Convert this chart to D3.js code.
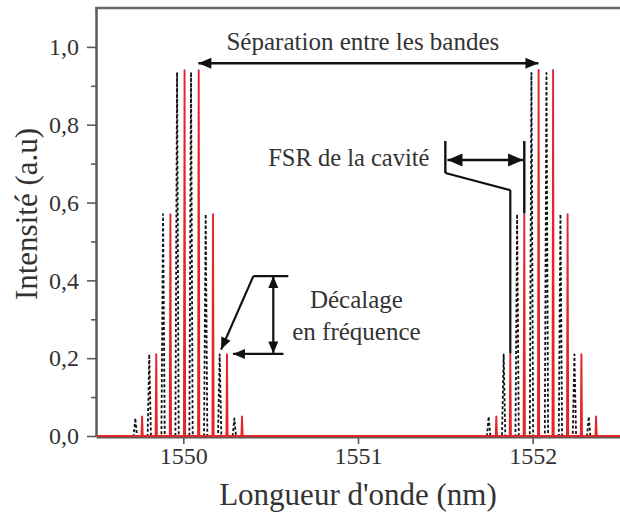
<!DOCTYPE html>
<html><head><meta charset="utf-8">
<script src="https://cdn.jsdelivr.net/npm/d3@7"></script>
<style>html,body{margin:0;padding:0;background:#fff}svg{display:block}</style>
</head><body>
<svg id="c" width="620" height="513"></svg>
<script>
// ---- data ----
const xDomain = [1549.5, 1552.5];
const yDomain = [0, 1.1];
const xTicks = [1550, 1551, 1552];
const yTicks = [0, 0.2, 0.4, 0.6, 0.8, 1.0];
const yMinorTicks = [0.1, 0.3, 0.5, 0.7, 0.9];
// black dashed comb (before shift)
const blackWavelengths = [1549.725, 1549.805, 1549.884, 1549.964, 1550.044, 1550.128, 1550.208, 1550.292,
                          1551.748, 1551.834, 1551.911, 1551.993, 1552.079, 1552.159, 1552.239, 1552.321];
const blackIntensities = [0.046, 0.21, 0.57, 0.935, 0.935, 0.57, 0.21, 0.045,
                          0.05, 0.21, 0.57, 0.933, 0.933, 0.57, 0.21, 0.05];
// red solid comb (frequency shifted)
const redWavelengths = [1549.764, 1549.845, 1549.926, 1550.007, 1550.088, 1550.170, 1550.250, 1550.336,
                        1551.792, 1551.872, 1551.952, 1552.034, 1552.117, 1552.200, 1552.279, 1552.363];
const redIntensities = [0.05, 0.21, 0.57, 0.94, 0.94, 0.57, 0.21, 0.05,
                        0.05, 0.21, 0.57, 0.941, 0.941, 0.57, 0.21, 0.05];
const xTitle = "Longueur d'onde (nm)";
const yTitle = "Intensité (a.u)";

// ---- chart ----
const svg = d3.select('#c');
const W = 620, H = 513;
const mLeft = 96, mRight = 620, mTop = 8, mBottom = 436;
const x = d3.scaleLinear().domain(xDomain).range([mLeft, mRight]);
const y = d3.scaleLinear().domain(yDomain).range([mBottom, mTop]);
const font = "'Liberation Serif', 'Times New Roman', serif";
const axisCol = '#5a5a5a', textCol = '#333';

svg.append('rect').attr('width', W).attr('height', H).attr('fill', '#fff');

svg.append('defs').append('clipPath').attr('id', 'clip')
  .append('rect').attr('x', mLeft + 1).attr('y', mTop).attr('width', mRight - mLeft).attr('height', mBottom - mTop + 2);

// axes
const fmt = d => d3.format('.1f')(d).replace('.', ',');
const yAx = svg.append('g').attr('transform', `translate(${mLeft},0)`)
  .call(d3.axisLeft(y).tickValues(yTicks).tickFormat(fmt).tickSize(9).tickSizeOuter(0).tickPadding(8));
const yMin = svg.append('g').attr('transform', `translate(${mLeft},0)`)
  .call(d3.axisLeft(y).tickValues(yMinorTicks).tickFormat('').tickSize(5).tickSizeOuter(0));
const xAx = svg.append('g').attr('transform', `translate(0,${mBottom + 1})`)
  .call(d3.axisBottom(x).tickValues(xTicks).tickFormat(d3.format('d')).tickSize(7).tickSizeOuter(0).tickPadding(3));
[yAx, yMin, xAx].forEach(a => {
  a.select('.domain').attr('stroke', axisCol).attr('stroke-width', 2);
  a.selectAll('.tick line').attr('stroke', axisCol).attr('stroke-width', 1.6);
  a.selectAll('text').attr('font-family', font).attr('font-size', 24).attr('fill', textCol);
});
// top frame line
svg.append('line').attr('x1', mLeft - 1).attr('x2', mRight).attr('y1', mTop).attr('y2', mTop)
  .attr('stroke', '#6a6a6a').attr('stroke-width', 2.6);

// spectra
function combPoints(ws, hs, halfW) {
  const pts = [[xDomain[0], 0]];
  ws.forEach((w, i) => {
    pts.push([w - halfW, 0], [w, hs[i]], [w + halfW, 0]);
  });
  pts.push([xDomain[1], 0]);
  return pts;
}
const line = d3.line().x(d => x(d[0])).y(d => y(d[1]));

const g = svg.append('g').attr('clip-path', 'url(#clip)');
g.append('path').datum(combPoints(blackWavelengths, blackIntensities, 0.0095))
  .attr('d', line).attr('fill', 'none').attr('stroke', '#111').attr('stroke-width', 1.8)
  .attr('stroke-dasharray', '3,2.2').attr('stroke-linejoin', 'round');
g.append('path').datum(combPoints(redWavelengths, redIntensities, 0.0035))
  .attr('d', line).attr('fill', 'none').attr('stroke', '#e3262b').attr('stroke-width', 1.9)
  .attr('stroke-linejoin', 'round');

// titles
svg.append('text').attr('x', (mLeft + mRight) / 2).attr('y', 505).attr('text-anchor', 'middle')
  .attr('font-family', font).attr('font-size', 31).attr('fill', textCol).text(xTitle);
svg.append('text').attr('transform', `translate(37,214) rotate(-90)`).attr('text-anchor', 'middle')
  .attr('font-family', font).attr('font-size', 31).attr('fill', textCol).text(yTitle);

// ---- annotations ----
const ann = svg.append('g');
const ink = '#111';
function seg(x1, y1, x2, y2, w = 2.2) {
  ann.append('line').attr('x1', x(x1)).attr('y1', y(y1)).attr('x2', x(x2)).attr('y2', y(y2))
    .attr('stroke', ink).attr('stroke-width', w);
}
function head(xt, yt, xf, yf, len, hw) {
  const tx = x(xt), ty = y(yt), fx = x(xf), fy = y(yf);
  const a = Math.atan2(ty - fy, tx - fx);
  const bx = tx - len * Math.cos(a), by = ty - len * Math.sin(a);
  const px = -Math.sin(a) * hw, py = Math.cos(a) * hw;
  ann.append('path').attr('d', `M${tx},${ty}L${bx + px},${by + py}L${bx - px},${by - py}Z`).attr('fill', ink);
}
function arrow(x1, y1, x2, y2, both, len, hw, w) {
  seg(x1, y1, x2, y2, w);
  head(x2, y2, x1, y1, len, hw);
  if (both) head(x1, y1, x2, y2, len, hw);
}
function label(txt, xv, yv, anchor, size) {
  ann.append('text').attr('x', x(xv)).attr('y', y(yv)).attr('text-anchor', anchor)
    .attr('font-family', font).attr('font-size', size).attr('fill', textCol).text(txt);
}

// Séparation entre les bandes
arrow(1550.086, 0.958, 1552.033, 0.958, true, 13, 5.5, 2.6);
label('Séparation entre les bandes', 1551.028, 0.992, 'middle', 25);

// FSR de la cavité
seg(1551.500, 0.758, 1551.500, 0.676, 2.4);
seg(1551.500, 0.676, 1551.872, 0.632, 2.2);
seg(1551.872, 0.632, 1551.872, 0.212, 2.2);
seg(1551.952, 0.758, 1551.952, 0.572, 2.4);
arrow(1551.512, 0.7095, 1551.945, 0.7095, true, 15, 6.5, 2.4);
label('FSR de la cavité', 1551.409, 0.694, 'end', 24.5);

// Décalage en fréquence
seg(1550.401, 0.411, 1550.601, 0.411, 2.2);
arrow(1550.401, 0.411, 1550.216, 0.222, false, 12, 5, 2.2);
arrow(1550.515, 0.411, 1550.515, 0.212, true, 12, 5, 2.2);
arrow(1550.573, 0.211, 1550.284, 0.211, false, 12, 5, 2.2);
label('Décalage', 1550.991, 0.329, 'middle', 25);
label('en fréquence', 1550.991, 0.247, 'middle', 25);
</script>
</body></html>
